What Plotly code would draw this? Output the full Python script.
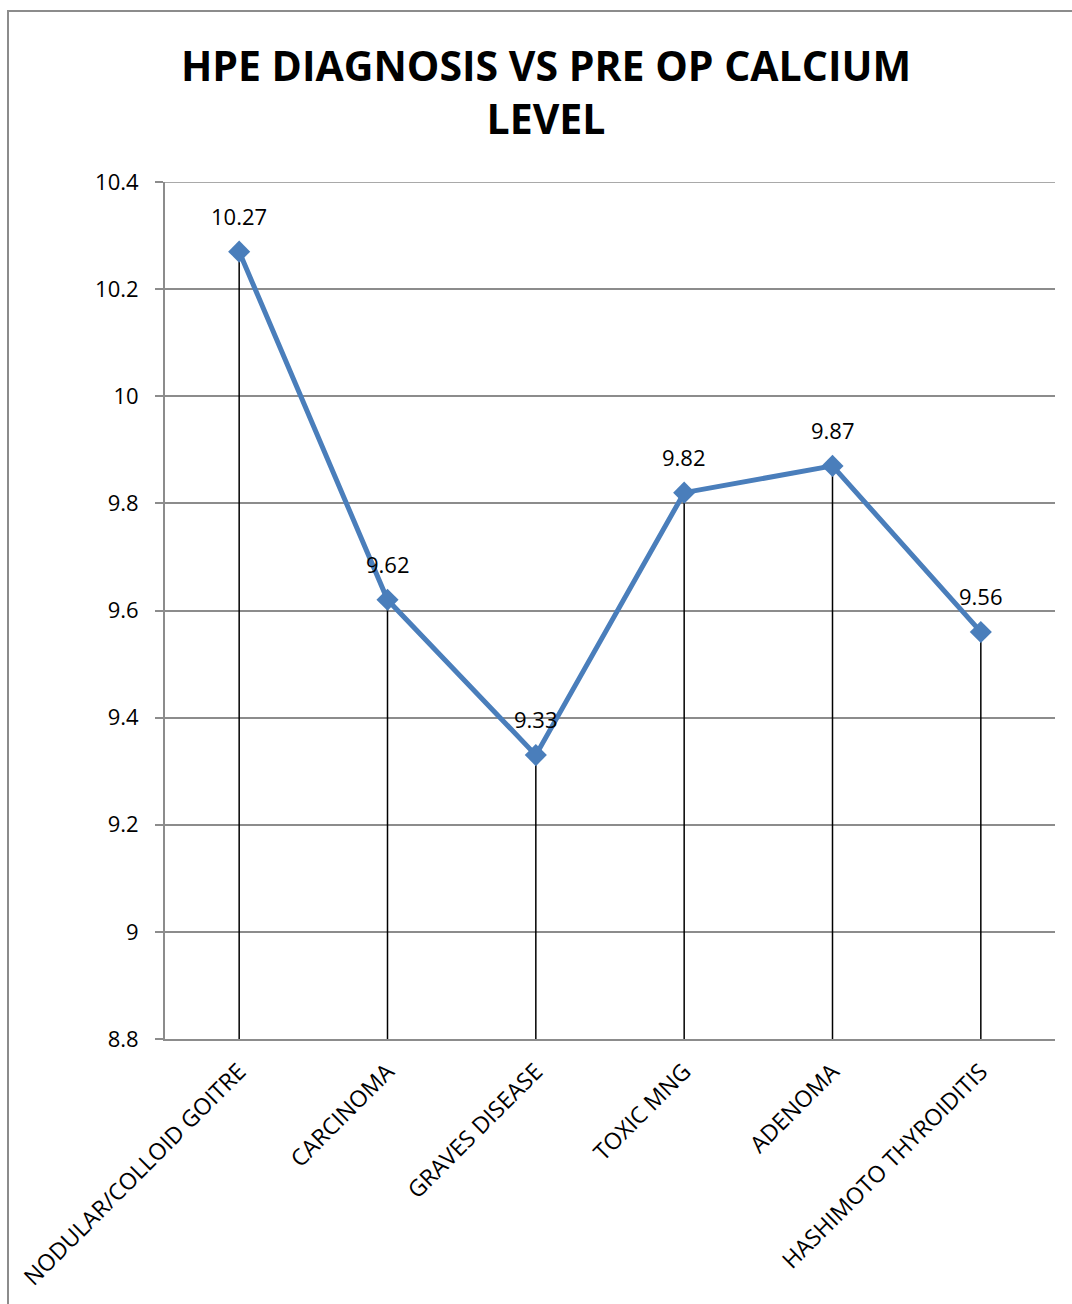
import plotly.graph_objects as go

categories = ["NODULAR/COLLOID GOITRE", "CARCINOMA", "GRAVES DISEASE", "TOXIC MNG", "ADENOMA", "HASHIMOTO THYROIDITIS"]
calcium = [10.27, 9.62, 9.33, 9.82, 9.87, 9.56]
y_ticks = [8.8, 9, 9.2, 9.4, 9.6, 9.8, 10, 10.2, 10.4]
y_tick_labels = ["8.8", "9", "9.2", "9.4", "9.6", "9.8", "10", "10.2", "10.4"]
title_text = "HPE DIAGNOSIS VS PRE OP CALCIUM<br>LEVEL"

FONT = "Open Sans"
ymin, ymax = y_ticks[0], y_ticks[-1]
GRID = "#8C8C8C"

drop_x, drop_y = [], []
for c, v in zip(categories, calcium):
    drop_x += [c, c, None]
    drop_y += [v, ymin, None]

fig = go.Figure()
fig.add_trace(go.Scatter(x=drop_x, y=drop_y, mode="lines",
                         line=dict(color="black", width=1.5),
                         hoverinfo="skip", showlegend=False))
fig.add_trace(go.Scatter(x=categories, y=calcium, mode="lines+markers",
                         line=dict(color="#4A7EBB", width=5),
                         marker=dict(symbol="diamond", size=17, color="#4A7EBB"),
                         showlegend=False))

annotations = [dict(x=c, y=v, xref="x", yref="y", text=f"{v:g}", showarrow=False,
                    yshift=36, font=dict(family=FONT, size=22, color="black"))
               for c, v in zip(categories, calcium)]

fig.update_layout(
    width=1072, height=1304,
    paper_bgcolor="white", plot_bgcolor="white",
    margin=dict(l=165, r=17, t=182, b=265),
    title=dict(text=title_text, x=546 / 1072, xanchor="center", xref="container",
               y=1 - 81 / 1304, yanchor="middle", yref="container",
               font=dict(family=FONT, size=41, color="black", weight="bold")),
    font=dict(family=FONT, color="black"),
    xaxis=dict(type="category", showgrid=False, showline=True, linecolor=GRID,
               linewidth=2, ticks="", tickangle=-45, ticklabelstandoff=8,
               tickfont=dict(family=FONT, size=23, color="black"),
               range=[-0.5, len(categories) - 0.5]),
    yaxis=dict(range=[ymin, ymax], tickvals=y_ticks, ticktext=y_tick_labels,
               showgrid=True, gridcolor=GRID, gridwidth=1.5,
               showline=True, linecolor=GRID, linewidth=2,
               ticks="outside", ticklen=8, tickcolor=GRID, tickwidth=2,
               ticklabelstandoff=12,
               tickfont=dict(family=FONT, size=22, color="black"),
               zeroline=False),
    annotations=annotations,
    shapes=[dict(type="rect", xref="paper", yref="paper",
                 x0=(8 - 165) / 890, x1=1.05,
                 y0=-0.4, y1=(1039 - 11) / 857,
                 line=dict(color=GRID, width=2), layer="below"),
            dict(type="line", xref="paper", yref="y", x0=0, x1=1, y0=ymax, y1=ymax,
                 line=dict(color=GRID, width=1.5), layer="below")],
)

fig.write_html("out.html")
